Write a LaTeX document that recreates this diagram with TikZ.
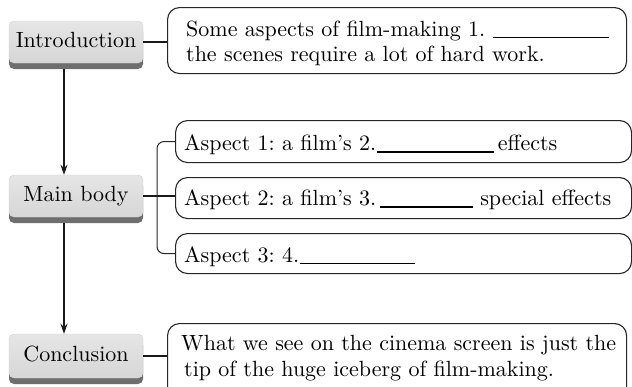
\documentclass[tikz,border=0pt]{standalone}
\usepackage{fontspec}
\setmainfont{lmroman10-regular.otf}[Ligatures=TeX]
\usetikzlibrary{shadows,arrows.meta,calc}
\frenchspacing
\begin{document}
\begin{tikzpicture}[x=1pt,y=-1pt,
  every node/.style={font=\fontsize{22}{25}\selectfont},
  graybox/.style={rounded corners=5pt, top color=black!10, bottom color=black!16, draw=black!18, line width=0.4pt,
    minimum width=134pt, text height=15.3pt, text depth=4.3pt, inner sep=0pt,
    drop shadow={shadow xshift=0pt, shadow yshift=-6pt, opacity=1, fill=black!57}},
  tbox/.style={draw=black!85, line width=1.1pt, rounded corners=12pt, inner sep=0pt, anchor=north west},
  txt/.style={anchor=base west, inner sep=0pt},
  link/.style={line width=2pt, black!90},
  arr/.style={line width=1.8pt, black!90, -{Stealth[length=10pt,width=7pt]}},
  brk/.style={line width=1pt, black!85, rounded corners=7pt}
]
\useasboundingbox (0,0) rectangle (632,386);

% gray stage boxes
\node[graybox, minimum height=42pt] (intro) at (76,42) {Introduction};
\node[graybox, minimum height=42pt] (main) at (76,196) {Main body};
\node[graybox, minimum height=44pt] (conc) at (76,356) {Conclusion};

% text boxes
\node[tbox, minimum width=459pt, minimum height=66pt] (t1) at (167,7) {};
\node[tbox, minimum width=456pt, minimum height=42pt] (a1) at (175,120) {};
\node[tbox, minimum width=456pt, minimum height=41pt] (a2) at (175,177) {};
\node[tbox, minimum width=456pt, minimum height=40pt] (a3) at (175,233) {};
\node[tbox, minimum width=459pt, minimum height=85pt] (t3) at (167,323) {};

% texts
\node[txt] (l1) at (186,36) {Some aspects of film-making 1.~\rule[-2pt]{116pt}{1.4pt}};
\node[txt] (l2) at (186,61) {the scenes require a lot of hard work.};
\node[txt] (s1) at (184,150) {Aspect 1: a film's 2.\hspace{1pt}\rule[-2.5pt]{117pt}{1.4pt}\,effects};
\node[txt] (s2) at (184,205) {Aspect 2: a film's 3.\,\rule[-2.5pt]{93pt}{1.4pt}~special effects};
\node[txt] (s3) at (184,262) {Aspect 3: 4.\hspace{1pt}\rule[-2pt]{115pt}{1.4pt}};
\node[txt] (c1) at (181,350) {What we see on the cinema screen is just the};
\node[txt] (c2) at (184,376) {tip of the huge iceberg of film-making.};

% connectors
\draw[link] (intro.east) -- (intro.east -| t1.west);
\draw[link] (main.east) -- (main.east -| a2.west);
\draw[link] (conc.east) -- (conc.east -| t3.west);
\draw[brk] (a1.west) -- ++(-18,0) |- (a3.west);

\draw[arr] ([xshift=-12pt,yshift=-6pt]intro.south) -- ([xshift=-12pt]main.north);
\draw[arr] ([xshift=-12pt,yshift=-6pt]main.south) -- ([xshift=-12pt]conc.north);
\end{tikzpicture}
\end{document}
